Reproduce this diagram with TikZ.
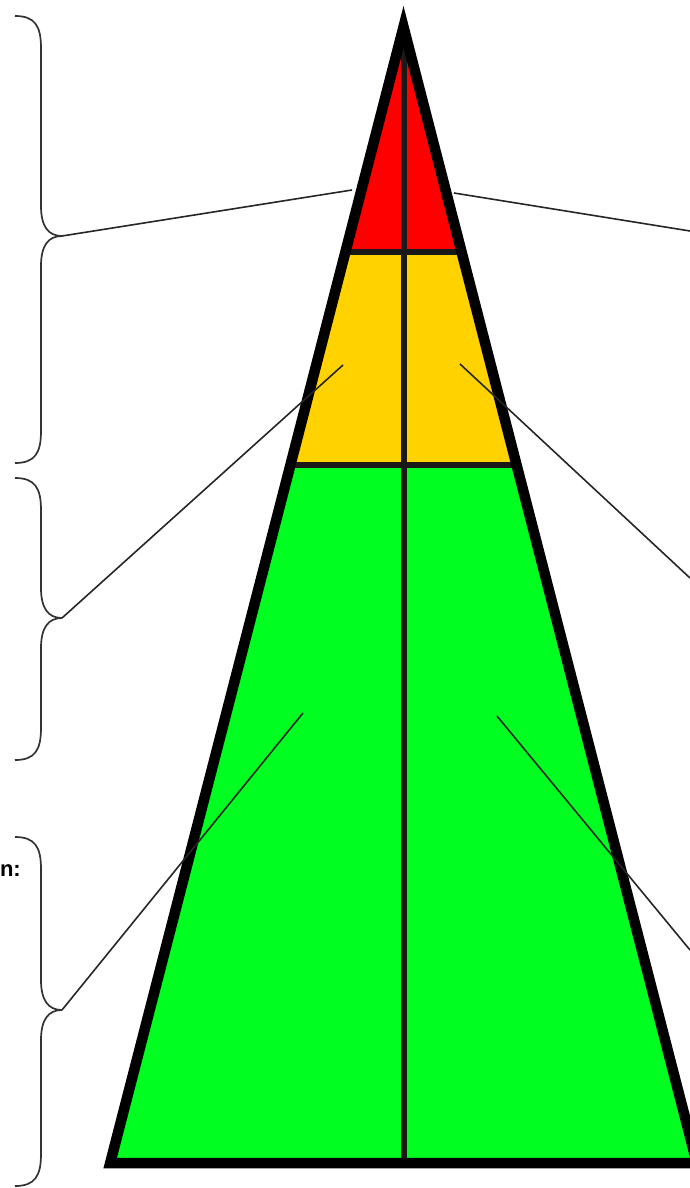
\documentclass[tikz,border=0pt]{standalone}
\usepackage{fontspec}
\setmainfont{Liberation Sans}
\definecolor{pred}{RGB}{255,0,0}
\definecolor{pyellow}{RGB}{255,210,0}
\definecolor{pgreen}{RGB}{0,255,33}
\newcommand\mybrace[4]{% name, top y, tip y, bottom y
  \draw[bracestyle] (15,#2) .. controls (35,#2) and (41,{#2+10}) .. (41,{#2+32})
    -- (41,{#3-30}) .. controls (41,{#3-10}) and (48,#3) .. (62,#3)
    .. controls (48,#3) and (41,{#3+10}) .. (41,{#3+30})
    -- (41,{#4-32}) .. controls (41,{#4-10}) and (35,#4) .. (15,#4);
  \coordinate (#1) at (62,#3);}
\tikzset{
  bracestyle/.style={draw=black!80, line width=1.7pt},
  leader/.style={draw=black!85, line width=1.6pt},
  outline/.style={draw=black, line width=10.5pt, line join=miter, miter limit=10},
  inner/.style={draw=black!90, line width=6pt},
}
\begin{document}
\begin{tikzpicture}[x=1pt,y=-1pt]
\useasboundingbox (0,0) rectangle (690,1188);
% key points
\coordinate (apex) at (403.5,27);
\coordinate (r1l) at (345.5,251.5);
\coordinate (r1r) at (461.5,251.5);
\coordinate (y1l) at (290.4,465);
\coordinate (y1r) at (516.6,465);
\coordinate (bl) at (110.2,1163);
\coordinate (br) at (696.8,1163);
\coordinate (bc) at (403.5,1163);
% fills
\fill[pred] (apex) -- (r1r) -- (r1l) -- cycle;
\fill[pyellow] (r1l) -- (r1r) -- (y1r) -- (y1l) -- cycle;
\fill[pgreen] (y1l) -- (y1r) -- (br) -- (bl) -- cycle;
% inner lines
\draw[inner] (apex) -- (bc);
\draw[inner] (r1l) -- (r1r);
\draw[inner] (y1l) -- (y1r);
% outline
\draw[outline] (apex) -- (br) -- (bl) -- cycle;
% braces
\mybrace{t1}{16}{236}{463}
\mybrace{t2}{478}{618}{760}
\mybrace{t3}{837}{1010}{1186}
% leader line end points
\coordinate (l1) at (352,190);
\coordinate (r1) at (454,193);
\coordinate (e1) at (690,231);
\coordinate (l2) at (343,365);
\coordinate (r2) at (460,364);
\coordinate (e2) at (690,578);
\coordinate (l3) at (303,713);
\coordinate (r3) at (497,716);
\coordinate (e3) at (690,950);
\draw[leader] (t1) -- (l1);
\draw[leader] (r1) -- (e1);
\draw[leader] (t2) -- (l2);
\draw[leader] (r2) -- (e2);
\draw[leader] (t3) -- (l3);
\draw[leader] (r3) -- (e3);
% text
\node[anchor=base east, inner sep=0pt, font=\bfseries\fontsize{22}{26}\selectfont] (lbl) at (21,876) {n:};
\end{tikzpicture}
\end{document}
